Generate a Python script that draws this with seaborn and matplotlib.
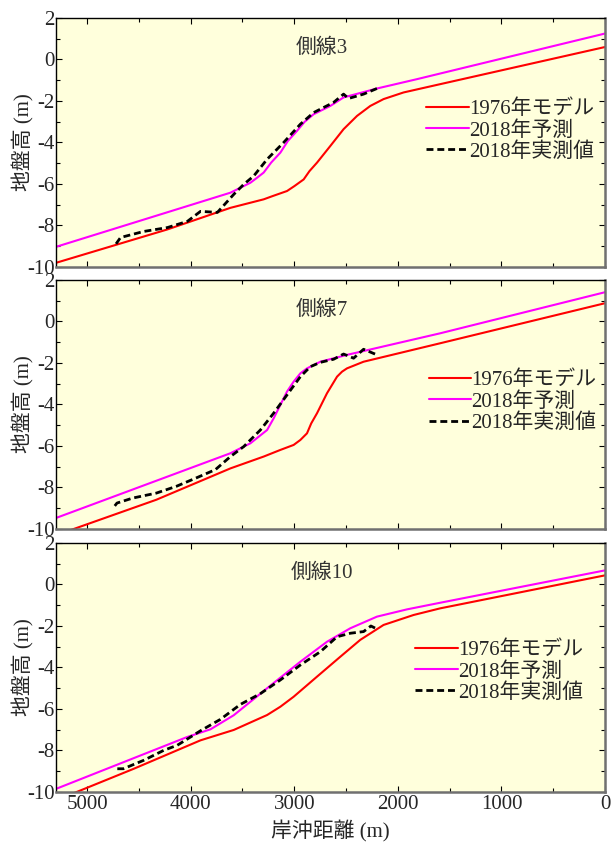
import matplotlib
matplotlib.use("Agg")
import matplotlib.pyplot as plt
import seaborn as sns
from matplotlib.ticker import MultipleLocator

# 側線3
l3_1976_x = [5300, 4224, 3616, 3295, 3207, 3070, 2998, 2909, 2853, 2780, 2652, 2524, 2394, 2266, 2138, 1945, 1591, 0]
l3_1976_y = [-9.80, -8.19, -7.15, -6.74, -6.58, -6.34, -6.10, -5.78, -5.38, -4.97, -4.17, -3.36, -2.72, -2.24, -1.91, -1.59, -1.19, 0.60]
l3_2018p_x = [5300, 3616, 3423, 3359, 3295, 3223, 3134, 3062, 2973, 2901, 2813, 2652, 2524, 2202, 1816, 0]
l3_2018p_y = [-9.03, -6.42, -5.94, -5.70, -5.45, -4.97, -4.49, -3.93, -3.44, -3.01, -2.64, -2.24, -1.83, -1.40, -0.95, 1.25]
l3_2018m_x = [4725, 4677, 4455, 4224, 4031, 3905, 3742, 3584, 3488, 3392, 3262, 3102, 2941, 2813, 2620, 2524, 2476, 2331, 2202]
l3_2018m_y = [-8.92, -8.58, -8.29, -8.10, -7.80, -7.32, -7.37, -6.50, -6.02, -5.62, -4.81, -4.00, -3.12, -2.56, -2.07, -1.67, -1.88, -1.67, -1.40]

# 側線7
l7_1976_x = [5300, 5129, 4331, 3616, 3295, 3134, 3006, 2941, 2877, 2836, 2780, 2684, 2587, 2539, 2491, 2331, 1591, 0]
l7_1976_y = [-10.30, -10.0, -8.59, -7.08, -6.51, -6.19, -5.95, -5.71, -5.39, -4.91, -4.42, -3.46, -2.66, -2.42, -2.26, -1.94, -1.05, 0.88]
l7_2018p_x = [5300, 3616, 3423, 3262, 3199, 3134, 3070, 3006, 2941, 2877, 2748, 2491, 1591, 0]
l7_2018p_y = [-9.47, -6.35, -5.87, -5.23, -4.67, -4.02, -3.38, -2.90, -2.50, -2.26, -1.94, -1.61, -0.57, 1.41]
l7_2018m_x = [4749, 4711, 4559, 4331, 4141, 3951, 3761, 3616, 3488, 3327, 3199, 3070, 2941, 2845, 2748, 2620, 2524, 2427, 2331, 2220]
l7_2018m_y = [-8.99, -8.75, -8.51, -8.27, -7.95, -7.55, -7.14, -6.51, -6.03, -5.23, -4.42, -3.54, -2.66, -2.18, -1.97, -1.82, -1.57, -1.77, -1.34, -1.57]

# 側線10
l10_1976_x = [5300, 5101, 4549, 3905, 3584, 3262, 3134, 3006, 2780, 2555, 2363, 2138, 1848, 1591, 0]
l10_1976_y = [-10.40, -10.0, -8.88, -7.51, -7.01, -6.29, -5.89, -5.41, -4.44, -3.48, -2.67, -1.95, -1.47, -1.15, 0.44]
l10_2018p_x = [5300, 4034, 3809, 3584, 3262, 2941, 2684, 2459, 2202, 1912, 1591, 0]
l10_2018p_y = [-9.85, -7.35, -6.98, -6.30, -5.00, -3.72, -2.76, -2.11, -1.55, -1.20, -0.88, 0.68]
l10_2018m_x = [4725, 4650, 4452, 4259, 4130, 3905, 3713, 3520, 3327, 3134, 2941, 2748, 2587, 2459, 2331, 2260, 2220]
l10_2018m_y = [-8.88, -8.88, -8.47, -7.99, -7.75, -7.05, -6.50, -5.78, -5.26, -4.60, -3.88, -3.24, -2.52, -2.35, -2.27, -2.00, -2.10]

titles = ["側線3", "側線7", "側線10"]
labels = ["1976年モデル", "2018年予測", "2018年実測値"]
xticks = [5000, 4000, 3000, 2000, 1000, 0]
yticks = [2, 0, -2, -4, -6, -8, -10]

panels = [
    (l3_1976_x, l3_1976_y, l3_2018p_x, l3_2018p_y, l3_2018m_x, l3_2018m_y),
    (l7_1976_x, l7_1976_y, l7_2018p_x, l7_2018p_y, l7_2018m_x, l7_2018m_y),
    (l10_1976_x, l10_1976_y, l10_2018p_x, l10_2018p_y, l10_2018m_x, l10_2018m_y),
]

sns.set_style("ticks")
plt.rcParams['font.family'] = ['Liberation Serif', 'Noto Sans CJK JP']
plt.rcParams['axes.unicode_minus'] = False
plt.rcParams['font.size'] = 15

fig = plt.figure(figsize=(6.12, 8.43), dpi=100)

bottoms = [0.6833, 0.3725, 0.0605]
legend_pos = [(0.674, 0.672), (0.679, 0.635), (0.654, 0.607)]

for i, (data, title) in enumerate(zip(panels, titles)):
    ax = fig.add_axes([0.0915, bottoms[i], 0.8971, 0.2954])
    ax.set_facecolor('#FFFFDC')
    x1, y1, x2, y2, x3, y3 = data
    sns.lineplot(x=x1, y=y1, ax=ax, color='#FF0000', lw=1.5, label=labels[0])
    sns.lineplot(x=x2, y=y2, ax=ax, color='#FF00FF', lw=1.5, label=labels[1])
    sns.lineplot(x=x3, y=y3, ax=ax, color='black', lw=2, linestyle=(0, (2.5, 1.4)), label=labels[2])

    ax.set_xlim(5300, 0)
    ax.set_ylim(-10, 2)
    ax.set_xticks(xticks)
    ax.set_yticks(yticks)
    ax.xaxis.set_minor_locator(MultipleLocator(500))
    ax.yaxis.set_minor_locator(MultipleLocator(1))
    ax.tick_params(which='both', direction='in', top=True, right=True, color='black')
    ax.tick_params(which='major', length=4.5, width=0.8, labelsize=15, pad=2)
    ax.tick_params(which='minor', length=3, width=0.8)
    ax.tick_params(axis='y', pad=1)

    for s in ['top', 'left']:
        ax.spines[s].set_color('black')
        ax.spines[s].set_linewidth(1.0)
    for s in ['bottom', 'right']:
        ax.spines[s].set_color('#707070')
        ax.spines[s].set_linewidth(1.8)

    ax.text(0.485, 0.88, title, transform=ax.transAxes, ha='center', va='center',
            fontsize=15, color='#333333')

    ax.set_ylabel("地盤高 (m)", fontsize=15)
    ax.yaxis.set_label_coords(-0.06, 0.5)
    ax.yaxis.label.set_va('center')

    if i < 2:
        ax.set_xticklabels([])
        ax.set_xlabel("")
    else:
        ax.set_xlabel("岸沖距離 (m)", fontsize=15)
        ax.xaxis.set_label_coords(0.5, -0.115)

    handles = ax.get_lines()[:3]
    ax.legend(handles, labels, loc='upper left', bbox_to_anchor=legend_pos[i],
              frameon=False, fontsize=15, handlelength=2.05, handletextpad=0.0,
              labelspacing=0.07, borderpad=0, borderaxespad=0)

fig.savefig("out.png", dpi=100)
